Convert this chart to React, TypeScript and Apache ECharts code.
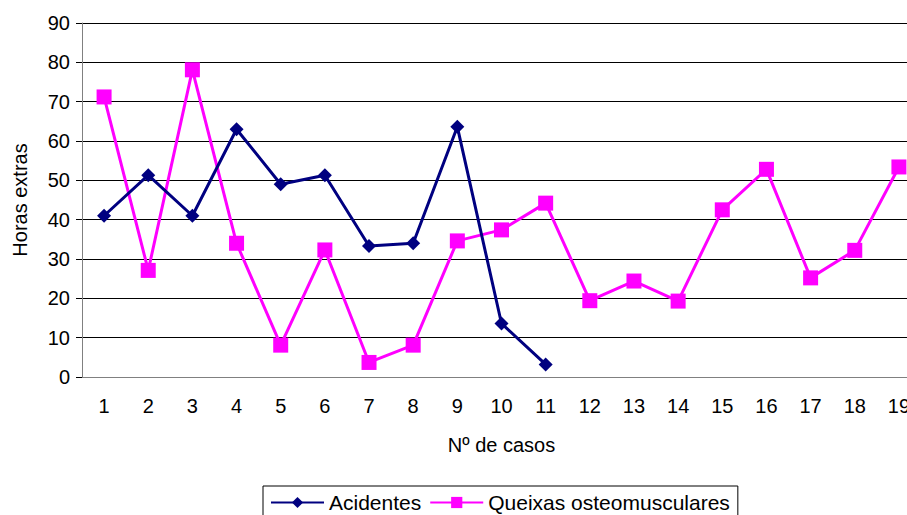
import React, { useEffect, useRef } from "react";
import * as echarts from "echarts";

const categories = ["1", "2", "3", "4", "5", "6", "7", "8", "9", "10", "11", "12", "13", "14", "15", "16", "17", "18", "19"];
const acidentes = [41, 51.3, 41, 63, 49, 51.3, 33.3, 34, 63.6, 13.6, 3.2];
const queixas = [71.2, 27.1, 78.1, 34, 8.1, 32.3, 3.7, 8.1, 34.6, 37.4, 44.2, 19.4, 24.4, 19.3, 42.5, 52.8, 25.2, 32.2, 53.4];
const yTicks = { min: 0, max: 90, interval: 10 };

const FONT = "'Liberation Sans', Arial, sans-serif";

export default function App() {
  const ref = useRef<HTMLDivElement>(null);
  useEffect(() => {
    if (!ref.current) return;
    const chart = echarts.init(ref.current, null, { renderer: "svg" });
    chart.setOption({
      animation: false,
      backgroundColor: "#ffffff",
      textStyle: { fontFamily: FONT, color: "#000" },
      grid: { left: 82, top: 23, width: 839, height: 354, containLabel: false, show: false },
      legend: {
        left: 263,
        top: 486,
        padding: [6, 8, 8, 7],
        borderColor: "#000",
        borderWidth: 1,
        borderRadius: 0,
        itemWidth: 53,
        itemHeight: 14,
        itemGap: 8,
        textStyle: { fontFamily: FONT, fontSize: 21, color: "#000" },
        data: ["Acidentes", "Queixas osteomusculares"],
      },
      xAxis: {
        type: "category",
        data: categories,
        boundaryGap: true,
        name: "Nº de casos",
        nameLocation: "middle",
        nameGap: 58,
        nameTextStyle: { fontFamily: FONT, fontSize: 20, color: "#000" },
        axisLine: { show: true, lineStyle: { color: "#808080", width: 1 } },
        axisTick: { show: false },
        axisLabel: { fontFamily: FONT, fontSize: 20, color: "#000", margin: 19, interval: 0 },
        splitLine: { show: false },
      },
      yAxis: {
        type: "value",
        min: yTicks.min,
        max: yTicks.max,
        interval: yTicks.interval,
        name: "Horas extras",
        nameLocation: "middle",
        nameGap: 52,
        nameRotate: 90,
        nameTextStyle: { fontFamily: FONT, fontSize: 20, color: "#000" },
        axisLine: { show: true, lineStyle: { color: "#808080", width: 1 } },
        axisTick: { show: true, length: 6, lineStyle: { color: "#000" } },
        axisLabel: { fontFamily: FONT, fontSize: 20, color: "#000", margin: 12 },
        splitLine: { show: true, lineStyle: { color: "#000", width: 1 } },
      },
      series: [
        {
          name: "Acidentes",
          type: "line",
          data: acidentes,
          symbol: "diamond",
          symbolSize: 14,
          itemStyle: { color: "#000080" },
          lineStyle: { color: "#000080", width: 3 },
          z: 3,
        },
        {
          name: "Queixas osteomusculares",
          type: "line",
          data: queixas,
          symbol: "rect",
          symbolSize: 15,
          itemStyle: { color: "#FF00FF" },
          lineStyle: { color: "#FF00FF", width: 3 },
          z: 2,
        },
      ],
    });
    return () => chart.dispose();
  }, []);
  return (
    <div
      style={{ position: "fixed", left: 0, top: 0, width: 907, height: 515, overflow: "hidden", background: "#fff" }}
    >
      <div ref={ref} style={{ width: 930, height: 515 }} />
    </div>
  );
}
